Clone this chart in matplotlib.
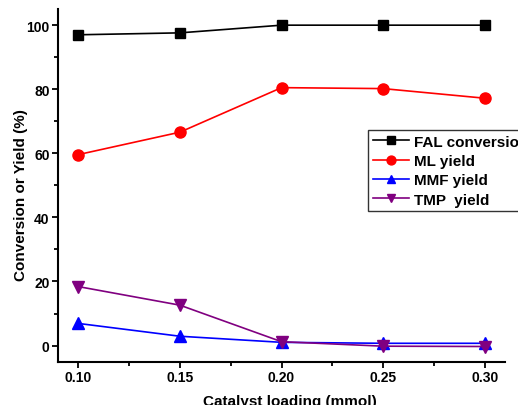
import matplotlib
matplotlib.use("Agg")
import matplotlib.pyplot as plt
from matplotlib.ticker import MultipleLocator, FuncFormatter

plt.rcParams['font.family'] = ['Liberation Sans', 'DejaVu Sans']
plt.rcParams['font.weight'] = 'bold'

# Catalyst loading (mmol)
loading = [0.10, 0.15, 0.20, 0.25, 0.30]
fal_conv = [97.0, 97.6, 100.0, 100.0, 100.0]
ml_yield = [59.6, 66.6, 80.5, 80.2, 77.2]
mmf_yield = [6.9, 2.9, 1.0, 0.7, 0.7]
tmp_yield = [18.4, 12.6, 1.2, -0.2, -0.3]

fig = plt.figure(figsize=(5.18, 4.06), dpi=100)
ax = fig.add_axes([0.112, 0.107, 0.863, 0.868])

ax.plot(loading, fal_conv, '-s', color='black', lw=1.2, ms=7, label='FAL conversion')
ax.plot(loading, ml_yield, '-o', color='red', lw=1.2, ms=8, label='ML yield')
ax.plot(loading, mmf_yield, '-^', color='blue', lw=1.2, ms=8, label='MMF yield')
ax.plot(loading, tmp_yield, '-v', color='purple', lw=1.2, ms=8, label='TMP  yield')

ax.set_xlim(0.09, 0.31)
ax.set_ylim(-5, 105)
ax.xaxis.set_major_locator(MultipleLocator(0.05))
ax.xaxis.set_minor_locator(MultipleLocator(0.025))
ax.yaxis.set_major_locator(MultipleLocator(20))
ax.yaxis.set_minor_locator(MultipleLocator(10))
ax.xaxis.set_major_formatter(FuncFormatter(lambda v, p: f"{v:.2f}"))

for s in ['top', 'right']:
    ax.spines[s].set_visible(False)
for s in ['left', 'bottom']:
    ax.spines[s].set_linewidth(1.5)

ax.tick_params(which='major', direction='out', length=4, width=1.3, labelsize=10, pad=2)
ax.tick_params(which='minor', direction='out', length=3, width=1.3)

ax.set_xlabel('Catalyst loading (mmol)', fontsize=11, fontweight='bold')
ax.set_ylabel('Conversion or Yield (%)', fontsize=11, fontweight='bold')
ax.xaxis.set_label_coords(0.518, -0.092)
ax.yaxis.set_label_coords(-0.083, 0.474)
ax.yaxis.label.set_va('center')

leg = ax.legend(loc='upper left', bbox_to_anchor=(368 / 518, 1 - 131 / 406),
                bbox_transform=fig.transFigure, frameon=True, fancybox=False,
                edgecolor='black', fontsize=11, handlelength=2.4,
                borderpad=0.3, labelspacing=0.35, handletextpad=0.3,
                borderaxespad=0, markerscale=0.8)
leg.get_frame().set_linewidth(1.0)
for t in leg.get_texts():
    t.set_fontweight('bold')

fig.savefig('out.png', dpi=100)
